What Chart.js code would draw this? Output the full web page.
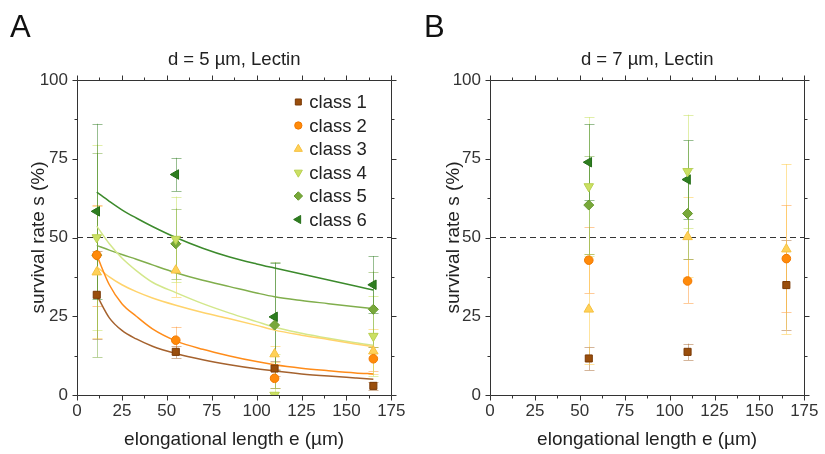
<!DOCTYPE html>
<html><head><meta charset="utf-8">
<script src="https://cdn.jsdelivr.net/npm/chart.js@4.4.1/dist/chart.umd.min.js"></script>
<style>
html,body{margin:0;padding:0;background:#fff;}
#wrap{position:relative;width:825px;height:454px;overflow:hidden;background:#fff;}
.panel{position:absolute;top:0;height:454px;}
#pA{left:0;width:412px;}
#pB{left:412px;width:413px;}
.lbl{position:absolute;top:9px;font:31px 'Liberation Sans',Arial,sans-serif;color:#111;line-height:36px;}
</style></head><body>
<div id="wrap">
<div class="panel" id="pA"><canvas id="cA" width="412" height="454"></canvas></div>
<div class="panel" id="pB"><canvas id="cB" width="413" height="454"></canvas></div>
<div class="lbl" style="left:10px">A</div>
<div class="lbl" style="left:424px">B</div>
</div>
<script>
// ---------------- data ----------------
const classNames = ['class 1','class 2','class 3','class 4','class 5','class 6'];
const xTickValues = [0,25,50,75,100,125,150,175];
const yTickValues = [0,25,50,75,100];
const titleA = 'd = 5 \u00b5m, Lectin';
const titleB = 'd = 7 \u00b5m, Lectin';
const xTitle = 'elongational length e (\u00b5m)';
const yTitle = 'survival rate s (%)';

// Panel A: d = 5 um
const lengthsA = [11, 55, 110, 165];
const a_class1 = [31.8, 13.7, 8.4, 2.9];
const a_class2 = [44.4, 17.4, 5.3, 11.5];
const a_class3 = [39.0, 39.6, 13.0, 13.9];
const a_class4 = [50.0, 49.5, 0.0, 18.7];
const a_class5 = [44.4, 48.0, 22.2, 27.2];
const a_class6 = [58.3, 70.0, 24.8, 35.0];
const a_err1 = [14, 2, 2.5, 1.2];
const a_err2 = [16, 4.3, 3, 3.8];
const a_err3 = [21, 8.5, 2.5, 7.2];
const a_err4 = [29.5, 13.5, 13, 12.8];
const a_err5 = [32.4, 11.2, 20, 12];
const a_err6 = [27.8, 5.3, 17, 9.1];

// fitted curves
const fitX = [11, 18, 25, 33, 42, 55, 70, 85, 100, 110, 125, 140, 155, 165];
const fit1 = [31.7, 24.5, 20.5, 17.8, 15.5, 13.2, 11.2, 9.6, 8.3, 7.6, 6.7, 6.0, 5.4, 5.0];
const fit2 = [44.4, 35.0, 29.0, 25.0, 21.0, 17.2, 14.5, 12.4, 10.6, 9.6, 8.5, 7.7, 7.0, 6.7];
const fit3 = [40.7, 37.5, 35.0, 32.8, 30.8, 28.5, 26.2, 24.2, 22.1, 20.6, 19.0, 17.6, 16.2, 15.3];
const fit4 = [53.6, 48.0, 43.5, 39.5, 35.8, 32.5, 29.0, 26.0, 23.3, 21.5, 19.6, 18.0, 16.6, 15.8];
const fit5 = [47.5, 46.0, 44.6, 43.1, 41.3, 38.8, 36.4, 34.4, 32.4, 31.2, 30.0, 29.0, 28.0, 27.4];
const fit6 = [64.4, 61.5, 58.8, 56.2, 53.5, 50.0, 46.6, 43.8, 41.6, 40.3, 38.4, 36.5, 34.6, 33.3];

// Panel B: d = 7 um
const lengthsB = [55, 110, 165];
const b_class1 = [11.6, 13.7, 34.9];
const b_class2 = [42.8, 36.2, 43.3];
const b_class3 = [27.2, 50.2, 46.3];
const b_class4 = [66.2, 71.0, null];
const b_class5 = [60.3, 57.6, null];
const b_class6 = [73.9, 68.4, null];
const b_err1 = [3.7, 2.6, 14.2];
const b_err2 = [10.5, 7.0, 17.0];
const b_err3 = [17.5, 12.7, 27.0];
const b_err4 = [22.0, 18.0, null];
const b_err5 = [15.6, 14.4, null];
const b_err6 = [12.0, 12.4, null];

const threshold = 50;

// ---------------- styles ----------------
const FONT = "'Liberation Sans', Arial, sans-serif";
const markerFill = ['#9A4E0C', '#FF8A0A', '#FFD158', '#CBE063', '#78A83A', '#2E7E1F'];
const markerEdge = ['#7A3A06', '#F07800', '#F5C040', '#B8D050', '#66982C', '#256E18'];
const errColor = ['rgba(160,90,30,0.45)', 'rgba(255,140,30,0.45)', 'rgba(255,205,80,0.55)',
                  'rgba(200,225,100,0.55)', 'rgba(120,170,60,0.5)', 'rgba(50,125,35,0.5)'];
const fitColor = ['#A5622E', '#FF8C1A', '#FFD36B', '#D3E78B', '#80AE4C', '#3C8A2C'];
const pStyle = ['rect', 'circle', 'triangle', 'triangle', 'rectRot', 'triangle'];
const pRot = [0, 0, 0, 180, 0, -90];
const pRad = [5, 4.3, 5.5, 5.5, 5, 5.5];

function pts(xs, ys) { return xs.map((x, i) => ({x: x, y: ys[i]})); }

function classDatasets(xs, vals, errs) {
  return vals.map((v, i) => ({
    type: 'scatter',
    label: classNames[i],
    data: pts(xs, v),
    errors: errs[i],
    errColor: errColor[i],
    pointStyle: pStyle[i],
    rotation: pRot[i],
    pointRadius: pRad[i],
    backgroundColor: markerFill[i],
    borderColor: markerEdge[i],
    borderWidth: 1,
    isClass: true
  }));
}
function fitDatasets(fits) {
  return fits.map((f, i) => ({
    type: 'line',
    label: 'fit ' + classNames[i],
    data: pts(fitX, f),
    borderColor: fitColor[i],
    borderWidth: 1.5,
    pointRadius: 0,
    cubicInterpolationMode: 'monotone',
    fill: false
  }));
}
function thresholdDataset() {
  return {
    type: 'line', label: 'threshold',
    data: [{x: 0, y: threshold}, {x: 175, y: threshold}],
    borderColor: '#333', borderWidth: 1.1, borderDash: [6, 4], pointRadius: 0, fill: false
  };
}

const errorBarPlugin = {
  id: 'errorBars',
  beforeDatasetsDraw(chart) {
    const {ctx, chartArea, scales} = chart;
    const xs = scales.x, ys = scales.y;
    ctx.save();
    ctx.beginPath();
    ctx.rect(chartArea.left, chartArea.top, chartArea.width, chartArea.height);
    ctx.clip();
    chart.data.datasets.forEach(ds => {
      if (!ds.errors) return;
      ds.data.forEach((p, j) => {
        const e = ds.errors[j];
        if (p.y == null || e == null) return;
        const px = Math.round(xs.getPixelForValue(p.x)) + 0.5;
        const t = ys.getPixelForValue(p.y + e), b = ys.getPixelForValue(p.y - e);
        ctx.strokeStyle = ds.errColor;
        ctx.lineWidth = 1;
        ctx.beginPath();
        ctx.moveTo(px, t); ctx.lineTo(px, b);
        ctx.moveTo(px - 5, Math.round(t) + 0.5); ctx.lineTo(px + 5, Math.round(t) + 0.5);
        ctx.moveTo(px - 5, Math.round(b) + 0.5); ctx.lineTo(px + 5, Math.round(b) + 0.5);
        ctx.stroke();
      });
    });
    ctx.restore();
  }
};

const framePlugin = {
  id: 'frame',
  afterDraw(chart) {
    const {ctx, chartArea: a, scales} = chart;
    const xs = scales.x, ys = scales.y;
    const L = Math.round(a.left) + 0.5, R = Math.round(a.right) + 0.5;
    const T = Math.round(a.top) + 0.5, B = Math.round(a.bottom) + 0.5;
    ctx.save();
    ctx.strokeStyle = '#333';
    ctx.lineWidth = 1;
    ctx.beginPath();
    ctx.rect(L, T, R - L, B - T);
    for (let i = 0; i < xTickValues.length; i++) {
      const v = xTickValues[i];
      const px = Math.round(xs.getPixelForValue(v)) + 0.5;
      ctx.moveTo(px, B); ctx.lineTo(px, B + 5);
      ctx.moveTo(px, T); ctx.lineTo(px, T - 5);
      if (i < xTickValues.length - 1) {
        const mv = (v + xTickValues[i + 1]) / 2;
        const mx = Math.round(xs.getPixelForValue(mv)) + 0.5;
        ctx.moveTo(mx, B); ctx.lineTo(mx, B + 3);
        ctx.moveTo(mx, T); ctx.lineTo(mx, T - 3);
      }
    }
    for (let i = 0; i < yTickValues.length; i++) {
      const v = yTickValues[i];
      const py = Math.round(ys.getPixelForValue(v)) + 0.5;
      ctx.moveTo(L, py); ctx.lineTo(L - 5, py);
      ctx.moveTo(R, py); ctx.lineTo(R + 5, py);
      if (i < yTickValues.length - 1) {
        const mv = (v + yTickValues[i + 1]) / 2;
        const my = Math.round(ys.getPixelForValue(mv)) + 0.5;
        ctx.moveTo(L, my); ctx.lineTo(L - 3, my);
        ctx.moveTo(R, my); ctx.lineTo(R + 3, my);
      }
    }
    ctx.stroke();
    ctx.restore();
  }
};

const legendPlugin = {
  id: 'insideLegend',
  afterDraw(chart, args, opts) {
    if (!opts || !opts.show) return;
    const {ctx, chartArea: a} = chart;
    const mx = a.right - 93, tx = mx + 11;
    let y = a.top + 22;
    ctx.save();
    ctx.font = '18.5px ' + FONT;
    ctx.textBaseline = 'middle';
    ctx.textAlign = 'left';
    chart.data.datasets.forEach(ds => {
      if (!ds.isClass) return;
      ctx.fillStyle = ds.backgroundColor;
      ctx.strokeStyle = ds.borderColor;
      ctx.lineWidth = 1;
      Chart.helpers.drawPoint(ctx, {pointStyle: ds.pointStyle, rotation: ds.rotation,
        radius: ds.pointRadius * 0.85, borderWidth: 1}, mx, y);
      ctx.fillStyle = '#222';
      ctx.fillText(ds.label, tx, y + 1);
      y += 23.5;
    });
    ctx.restore();
  }
};

function makeChart(id, title, datasets, yAxisWidth, rightPad, yTitlePad, showLegend) {
  return new Chart(document.getElementById(id), {
    type: 'scatter',
    data: {datasets: datasets},
    plugins: [errorBarPlugin, framePlugin, legendPlugin],
    options: {
      responsive: false,
      animation: false,
      events: [],
      layout: {padding: {left: 0, right: rightPad, top: 0, bottom: 0}},
      plugins: {
        legend: {display: false},
        tooltip: {enabled: false},
        insideLegend: {show: showLegend},
        title: {
          display: true, text: title, fullSize: false,
          color: '#222', font: {family: FONT, size: 18.5, weight: 'normal'},
          padding: {top: 48.6, bottom: 9.2}
        }
      },
      scales: {
        x: {
          type: 'linear', position: 'bottom', min: 0, max: 175,
          afterBuildTicks: s => { s.ticks = xTickValues.map(v => ({value: v})); },
          ticks: {color: '#333', font: {family: FONT, size: 17}, padding: 6.5, maxRotation: 0},
          grid: {display: false, drawTicks: false},
          border: {display: false},
          title: {display: true, text: xTitle, color: '#222', font: {family: FONT, size: 19}, padding: {top: 0, bottom: 2.6}},
          afterFit: s => { s.height = 59; }
        },
        y: {
          type: 'linear', position: 'left', min: 0, max: 100,
          afterBuildTicks: s => { s.ticks = yTickValues.map(v => ({value: v})); },
          ticks: {color: '#333', font: {family: FONT, size: 17}, padding: 9},
          grid: {display: false, drawTicks: false},
          border: {display: false},
          title: {display: true, text: yTitle, color: '#222', font: {family: FONT, size: 19}, padding: {top: yTitlePad, bottom: 0}},
          afterFit: s => { s.width = yAxisWidth; }
        }
      }
    }
  });
}

const dsA = classDatasets(lengthsA,
  [a_class1, a_class2, a_class3, a_class4, a_class5, a_class6],
  [a_err1, a_err2, a_err3, a_err4, a_err5, a_err6])
  .concat(fitDatasets([fit1, fit2, fit3, fit4, fit5, fit6]))
  .concat([thresholdDataset()]);
const dsB = classDatasets(lengthsB,
  [b_class1, b_class2, b_class3, b_class4, b_class5, b_class6],
  [b_err1, b_err2, b_err3, b_err4, b_err5, b_err6])
  .concat([thresholdDataset()]);

makeChart('cA', titleA, dsA, 77, 18, 27.6, true);
makeChart('cB', titleB, dsB, 78, 17, 30, false);
</script>
</body></html>
